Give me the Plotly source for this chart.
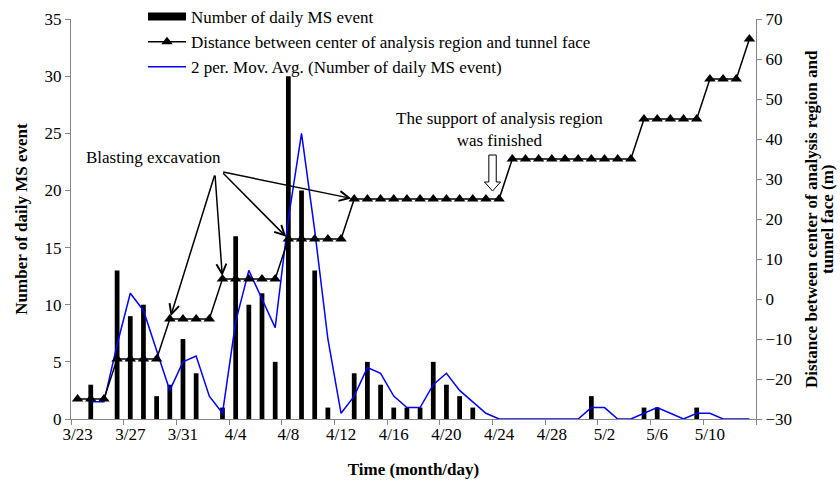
import plotly.graph_objects as go

# Daily categories (month/day)
days = ["3/23", "3/24", "3/25", "3/26", "3/27", "3/28", "3/29", "3/30", "3/31",
        "4/1", "4/2", "4/3", "4/4", "4/5", "4/6", "4/7", "4/8", "4/9", "4/10",
        "4/11", "4/12", "4/13", "4/14", "4/15", "4/16", "4/17", "4/18", "4/19",
        "4/20", "4/21", "4/22", "4/23", "4/24", "4/25", "4/26", "4/27", "4/28",
        "4/29", "4/30", "5/1", "5/2", "5/3", "5/4", "5/5", "5/6", "5/7", "5/8",
        "5/9", "5/10", "5/11", "5/12", "5/13"]

# Number of daily MS events
ms_events = [0, 3, 0, 13, 9, 10, 2, 3, 7, 4, 0, 1, 16, 10, 11, 5, 30, 20, 13,
             1, 0, 4, 5, 3, 1, 1, 1, 5, 3, 2, 1, 0, 0, 0, 0, 0, 0, 0, 0, 2, 0,
             0, 0, 1, 1, 0, 0, 1, 0, 0, 0, 0]

# Distance between center of analysis region and tunnel face (m)
distance = [-25, -25, -25, -15, -15, -15, -15, -5, -5, -5, -5, 5, 5, 5, 5, 5,
            15, 15, 15, 15, 15, 25, 25, 25, 25, 25, 25, 25, 25, 25, 25, 25, 25,
            35, 35, 35, 35, 35, 35, 35, 35, 35, 35, 45, 45, 45, 45, 45, 55, 55,
            55, 65]

# 2-period moving average trendline of the daily event count
mov_avg = [None] + [(ms_events[i - 1] + ms_events[i]) / 2 for i in range(1, len(ms_events))]

FONT = "Liberation Serif"
AXIS_GRAY = "#868686"

fig = go.Figure()

fig.add_trace(go.Bar(
    x=days, y=ms_events, name="Number of daily MS event",
    marker=dict(color="black", line=dict(width=0)),
    showlegend=False, yaxis="y",
))
# legend swatch for the bar series
fig.add_trace(go.Scatter(
    x=[None], y=[None], mode="lines", name="Number of daily MS event",
    line=dict(color="black", width=8), yaxis="y",
))
fig.add_trace(go.Scatter(
    x=days, y=distance, mode="lines+markers",
    name="Distance between center of analysis region and tunnel face",
    line=dict(color="black", width=1.5),
    marker=dict(symbol="triangle-up", size=10, color="black"),
    yaxis="y2",
))
fig.add_trace(go.Scatter(
    x=days, y=mov_avg, mode="lines",
    name="2 per. Mov. Avg. (Number of daily MS event)",
    line=dict(color="#0000FF", width=1.5),
    connectgaps=False, yaxis="y",
))

# Arrows from the "Blasting excavation" label to each blasting step
blasts = [(7, 10.43, 31.25), (11, 10.43, 31.25), (16, 10.94, 31.8), (21, 10.94, 31.8)]
annotations = []
for idx, tx, ty in blasts:
    annotations.append(dict(
        x=idx, y=distance[idx], xref="x", yref="y2",
        ax=tx, ay=ty, axref="x", ayref="y2",
        text="", showarrow=True, arrowhead=5, arrowsize=1.3,
        arrowwidth=1.5, arrowcolor="black", standoff=3,
    ))
annotations.append(dict(
    x=5.73, y=35.5, xref="x", yref="y2", text="Blasting excavation",
    showarrow=False, font=dict(family=FONT, size=17, color="black"),
))
annotations.append(dict(
    x=32.0, y=42.3, xref="x", yref="y2",
    text="The support of analysis region<br>was finished",
    showarrow=False, font=dict(family=FONT, size=17, color="black"),
))
# Right axis title (two rotated lines)
annotations.append(dict(
    x=(811 - 71) / 685, y=0.5, xref="paper", yref="paper",
    text="<b>Distance between center of analysis region and</b>",
    textangle=-90, showarrow=False, xanchor="center", yanchor="middle",
    font=dict(family=FONT, size=17, color="black"),
))
annotations.append(dict(
    x=(827 - 71) / 685, y=0.5, xref="paper", yref="paper",
    text="<b>tunnel face (m)</b>",
    textangle=-90, showarrow=False, xanchor="center", yanchor="middle",
    font=dict(family=FONT, size=17, color="black"),
))

# Hollow block arrow marking the end of support work
shapes = [dict(
    type="path", xref="x", yref="y2",
    xsizemode="pixel", ysizemode="pixel", xanchor=31.5, yanchor=25,
    path="M0,8 L-8,17 L-3.7,17 L-3.7,44 L3.7,44 L3.7,17 L8,17 Z",
    fillcolor="white", line=dict(color="black", width=1),
)]

fig.update_layout(
    width=840, height=481,
    margin=dict(l=71, r=84, t=19, b=62, autoexpand=False),
    paper_bgcolor="white", plot_bgcolor="white",
    font=dict(family=FONT, size=17, color="black"),
    bargap=0.64,
    showlegend=True,
    legend=dict(
        x=(143 - 71) / 685, y=(419 + 1) / 400, xanchor="left", yanchor="top",
        bgcolor="rgba(0,0,0,0)", font=dict(family=FONT, size=17, color="black"),
        itemwidth=38, tracegroupgap=0,
    ),
    xaxis=dict(
        type="category", categoryorder="array", categoryarray=days,
        range=[-0.5, len(days) - 0.5],
        tickmode="linear", tick0=0, dtick=4, tickson="boundaries",
        tickangle=0, automargin=False,
        ticks="outside", ticklen=5, tickcolor=AXIS_GRAY,
        showline=True, linecolor=AXIS_GRAY, linewidth=1,
        showgrid=False, zeroline=False,
        tickfont=dict(family=FONT, size=17),
        title=dict(text="<b>Time (month/day)</b>", font=dict(family=FONT, size=17), standoff=19),
    ),
    yaxis=dict(
        range=[0, 35], dtick=5, ticks="outside", ticklen=5, tickcolor=AXIS_GRAY,
        showline=True, linecolor=AXIS_GRAY, linewidth=1,
        showgrid=False, zeroline=False, automargin=False,
        tickfont=dict(family=FONT, size=17),
        title=dict(text="<b>Number of daily MS event</b>", font=dict(family=FONT, size=17), standoff=12),
    ),
    yaxis2=dict(
        range=[-30, 70], dtick=10, overlaying="y", side="right",
        ticks="outside", ticklen=5, tickcolor=AXIS_GRAY,
        showline=True, linecolor=AXIS_GRAY, linewidth=1,
        showgrid=False, zeroline=False, automargin=False,
        tickfont=dict(family=FONT, size=17),
    ),
    annotations=annotations,
    shapes=shapes,
)

fig.write_html("out.html")
